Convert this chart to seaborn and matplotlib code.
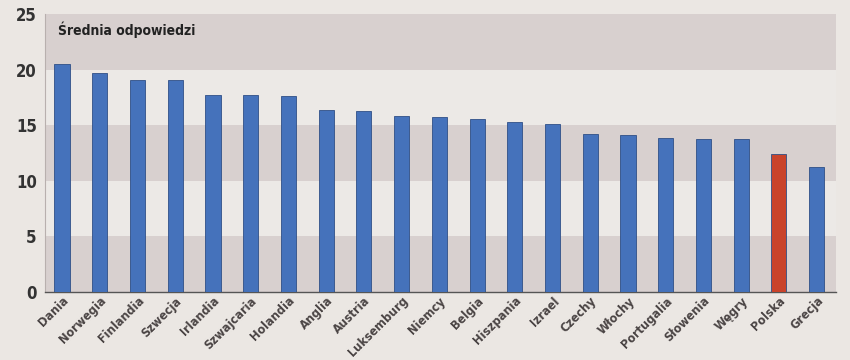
import matplotlib
matplotlib.use("Agg")
import matplotlib.pyplot as plt
import seaborn as sns
import numpy as np

countries = ["Dania", "Norwegia", "Finlandia", "Szwecja", "Irlandia", "Szwajcaria",
             "Holandia", "Anglia", "Austria", "Luksemburg", "Niemcy", "Belgia",
             "Hiszpania", "Izrael", "Czechy", "Włochy", "Portugalia", "Słowenia",
             "Węgry", "Polska", "Grecja"]
values = [20.5, 19.7, 19.1, 19.1, 17.7, 17.7, 17.6, 16.4, 16.3, 15.8, 15.7, 15.55,
          15.3, 15.1, 14.2, 14.1, 13.8, 13.7, 13.7, 12.4, 11.2]
yticks = [0, 5, 10, 15, 20, 25]
title = "Średnia odpowiedzi"

sns.set_style("white")
plt.rcParams["font.family"] = ["DejaVu Sans"]
plt.rcParams["font.stretch"] = "condensed"

paper = "#ebe7e3"
band = "#d8d0cf"
blue = "#4572bb"
red = "#c9432b"
colors = [red if c == "Polska" else blue for c in countries]

fig = plt.figure(figsize=(8.5, 3.6), dpi=100, facecolor=paper)
ax = fig.add_axes([0.053, 0.19, 0.93, 0.771])
ax.set_facecolor("#ece9e6")

for lo in (0, 10, 20):
    ax.axhspan(lo, lo + 5, color=band, zorder=0, lw=0)

sns.barplot(x=countries, y=values, hue=countries, palette=colors, legend=False,
            width=0.4, ax=ax, edgecolor="#2f4f86", linewidth=0.6, zorder=3, saturation=1)

ax.set_xlim(-0.45, 20.3)
ax.set_ylim(0, 25)
ax.set_yticks(yticks)
ax.set_yticklabels([str(t) for t in yticks], fontsize=12, fontweight="bold",
                   color="#333333", fontstretch="condensed")
ax.set_xticks(range(len(countries)))
ax.set_xticklabels(countries, rotation=45, ha="right", rotation_mode="anchor",
                   fontsize=9, fontweight="bold", color="#4a4444", fontstretch="condensed")
ax.set_xticks(np.arange(len(countries)) + 0.5, minor=True)
ax.tick_params(axis="x", which="major", length=0, pad=2)
ax.tick_params(axis="x", which="minor", direction="in", length=12, width=0.8, color="#8a7f7f")
ax.tick_params(axis="y", length=0, pad=6)
ax.set_xlabel("")
ax.set_ylabel("")

for s in ("top", "right"):
    ax.spines[s].set_visible(False)
ax.spines["left"].set_color("#b8b0ae")
ax.spines["bottom"].set_color("#555555")
ax.spines["bottom"].set_linewidth(1.0)

ax.text(-0.1, 23.6, title, fontsize=10, fontweight="bold", color="#222222",
        ha="left", va="center", zorder=4, fontstretch="condensed")

fig.savefig("out.png", dpi=100, facecolor=paper)
